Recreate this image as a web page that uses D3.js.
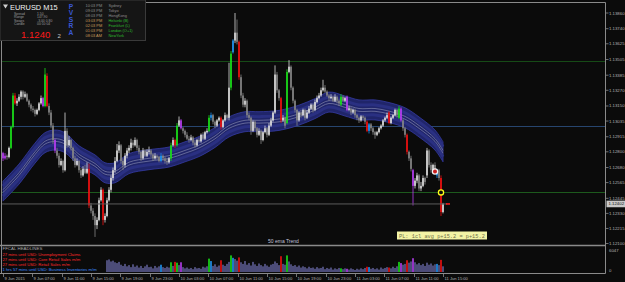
<!DOCTYPE html>
<html>
<head>
<meta charset="utf-8">
<script src="https://cdn.jsdelivr.net/npm/d3@7"></script>
<style>
  html, body { margin: 0; padding: 0; background: #0b0b0b; overflow: hidden; }
  svg { display: block; font-family: "Liberation Sans", Arial, sans-serif; }
</style>
</head>
<body>
<div id="chart"></div>
<script>
// EURUSD M15, prices kept as pips above 1.12000
const base = 1.12;

const open = [
  79,75,77,76,83,99,123,117,119,122,126,122,124,119,116,113,112,109,112,117,
  121,115,138,115,110,100,89,81,77,70,73,66,96,85,89,83,75,70,73,66,
  62,67,64,67,39,35,31,24,28,43,51,28,31,43,51,60,66,73,81,85,
  73,70,77,81,83,87,85,89,83,80,75,81,77,80,81,78,75,77,76,73,
  77,75,73,72,75,85,89,85,100,104,98,96,93,90,89,91,87,85,89,88,
  93,90,95,96,106,108,103,100,104,106,99,104,108,106,129,156,165,171,164,137,
  123,116,119,108,106,96,103,98,93,96,89,95,98,93,100,104,110,139,127,121,
  104,106,102,141,145,129,119,112,104,110,108,112,106,110,113,116,112,118,121,123,
  127,129,126,123,121,122,119,122,119,116,122,119,122,112,113,110,112,108,106,104,
  107,106,103,96,101,98,95,93,95,98,100,104,106,110,102,106,108,112,106,113,
  104,98,93,80,75,66,54,58,62,52,54,60,62,81,70,66,70,62,66,60,34
];
const high = [
  80,79,78,84,100,125,125,121,124,127,127,126,125,120,117,115,113,113,118,123,
  122,144,140,117,112,102,90,83,79,75,74,110,98,92,90,84,77,75,74,68,
  69,70,72,71,41,37,33,30,45,53,52,33,45,53,62,68,76,86,88,86,
  75,79,83,85,90,89,91,90,85,81,83,82,82,84,82,79,79,78,77,79,
  78,76,75,76,87,91,90,102,107,105,99,97,95,92,93,92,89,90,91,94,
  95,96,98,108,110,109,104,105,107,107,105,110,109,148,157,166,186,181,165,139,
  125,121,120,110,107,104,104,99,98,97,96,100,99,102,106,111,146,141,128,122,
  108,107,143,150,146,130,120,113,111,112,113,113,112,115,117,117,120,123,125,129,
  135,131,127,124,124,123,124,123,120,124,123,122,123,115,114,113,113,109,107,108,
  108,107,104,102,102,99,96,96,99,101,105,107,110,111,107,109,113,113,115,114,
  105,99,94,81,77,67,60,64,63,57,62,61,83,82,72,71,72,67,67,62,41
];
const low = [
  73,74,74,75,82,98,116,115,118,120,120,121,118,114,111,110,107,108,111,116,
  114,114,114,108,98,86,79,75,68,69,64,65,83,84,81,73,68,69,64,60,
  61,63,63,37,33,28,15,21,27,42,24,26,30,42,49,58,64,72,79,71,
  66,68,75,79,81,83,84,81,78,73,74,76,76,78,76,73,74,74,72,72,
  73,71,70,71,73,84,83,84,99,97,94,91,89,87,88,85,83,84,87,87,
  89,89,94,95,104,101,98,99,103,97,98,103,104,104,127,155,163,162,135,121,
  114,114,106,104,93,95,96,91,92,86,88,94,91,92,99,103,109,125,119,102,
  103,98,101,140,127,117,110,100,103,106,107,104,105,109,112,110,111,117,120,122,
  126,125,122,119,120,118,118,117,115,115,118,118,111,111,108,109,106,104,102,103,
  104,101,95,94,96,93,90,92,94,97,99,103,105,101,101,105,107,106,105,103,
  96,91,78,73,65,39,52,56,50,50,53,55,60,68,64,65,64,60,58,31,33
];
const close = [
  75,77,76,83,99,123,117,119,122,126,122,124,119,116,113,112,109,112,117,121,
  115,139,115,110,100,89,81,77,70,73,66,96,85,89,83,75,70,73,66,62,
  67,64,67,39,35,31,24,28,43,51,28,31,43,51,60,66,73,81,85,73,
  70,77,81,83,87,85,89,83,80,75,81,77,80,81,78,75,77,76,73,77,
  75,73,72,75,85,89,85,100,104,98,96,93,90,89,91,87,85,89,88,93,
  90,95,96,106,108,103,100,104,106,99,104,108,106,129,155,165,171,164,137,123,
  116,119,108,106,96,103,98,93,96,89,95,98,93,100,104,110,139,127,121,104,
  106,100,141,145,129,119,112,104,110,108,112,106,110,113,116,112,118,121,123,127,
  129,126,123,121,122,119,122,119,117,122,119,121,112,113,110,112,108,106,104,107,
  106,103,96,101,98,95,93,95,98,100,104,106,108,102,106,108,112,108,113,104,
  98,93,80,75,67,54,58,62,52,54,60,57,81,70,66,70,66,66,60,34,40
];

// PVSRA bar classes (bar indices)
const climaxBull = [4,5,21,84,87,103,114,142,169,198];
const climaxBear = [6,22,43,50,86,109,118,139,182,193,202,219];
const risingBull = [79,104,115,183,217];
const risingBear = [0,1,20,26,89,172,199,205];

// tick volume, first value belongs to bar volStart
const volStart = 52;
const volume = [
  2900,3100,2600,2800,2400,2200,2500,
  1800,1500,2000,1400,1700,1200,1900,1300,1600,1100,1500,1000,1400,1800,1200,1300,900,1500,1100,1400,
  1800,1200,1000,1300,1100,2400,1500,2500,2300,1700,2400,
  1200,900,1100,800,1000,700,1200,900,1000,800,1300,1100,
  1400,3300,2700,1500,1900,1300,1600,2900,1800,1500,2000,2500,
  4100,3500,3200,2800,3600,
  2400,2000,2700,1800,2200,1600,2500,1900,1500,2100,1700,1400,2000,1600,1300,1800,2000,2600,2200,1700,
  3900,2000,1800,4100,2600,
  1900,1500,1700,1300,1600,1100,1400,1200,900,1300,1000,1100,800,1200,900,1000,1300,700,1000,800,1100,600,900,700,1000,
  900,700,900,800,
  600,900,700,500,800,600,900,700,1000,
  1300,1200,
  800,1000,700,900,600,1100,800,1000,1200,
  1100,900,1300,1000,1400,
  2500,2200,1800,2000,2900,2300,2600,3400,
  2400,1900,2200,1700,2000,1500,2300,1800,2100,1600,1900,2000,1700,
  3000,1400
];
const volMax = 6047;

// "50 ema Trend" band centre, read at a few bars
const bandBars = [0,8,16,21,26,31,38,46,51,56,63,73,83,91,98,106,113,121,128,138,148,156,163,171,178,186,193,201,208,216,220];
const bandPips = [50,63,79,87,89,87,77,70,64,64,71,74,76,80,84,91,99,103,103,104,108,113,118,115,112,112,110,106,99,89,80];

const priceTicks = ["1.13860","1.13740","1.13625","1.13505","1.13385","1.13270","1.13150","1.13035",
                    "1.12915","1.12800","1.12680","1.12565","1.12445","1.12330","1.12215","1.12100"];
const timeLabels = ["9 Jun 2015","9 Jun 07:00","9 Jun 11:00","9 Jun 15:00","9 Jun 19:00","9 Jun 23:00",
                    "10 Jun 03:00","10 Jun 07:00","10 Jun 11:00","10 Jun 15:00","10 Jun 19:00","10 Jun 23:00",
                    "11 Jun 03:00","11 Jun 07:00","11 Jun 11:00","11 Jun 15:00"];
const timeTicks = ["2015-06-09T03:00","2015-06-09T07:00","2015-06-09T11:00","2015-06-09T15:00","2015-06-09T19:00","2015-06-09T23:00",
                   "2015-06-10T03:00","2015-06-10T07:00","2015-06-10T11:00","2015-06-10T15:00","2015-06-10T19:00","2015-06-10T23:00",
                   "2015-06-11T03:00","2015-06-11T07:00","2015-06-11T11:00","2015-06-11T15:00"];

const levelPrices = [1.13492, 1.12995, 1.12490];
const levelColors = ["#164a16", "#27456e", "#1d5a1d"];
const bid = 1.12402;

const markBars = [216, 219];
const markPips = [65, 49];

const sessionTimes = ["10:03 PM","09:03 PM","08:03 PM","03:03 PM","02:03 PM","01:03 PM","08:03 AM"];
const sessionCities = ["Sydney","Tokyo","HongKong","Helsinki (B)","Frankfurt (L)","London (O+1)","NewYork"];
const sessionOpen = [false,false,false,true,true,true,true];

const statNames = ["Spread","Range","Swaps","Candle"];
const statValues = ["1.50","147.90","-3.00  0.80","00:10:04"];

const newsLines = ["27 mins until USD: Unemployment Claims",
                   "27 mins until USD: Core Retail Sales m/m",
                   "27 mins until USD: Retail Sales m/m",
                   "1 hrs 57 mins until USD: Business Inventories m/m"];
const newsColors = ["#ff2a2a","#ff2a2a","#ff2a2a","#3d8cff"];

// ---- layout ----
const width = 625, height = 282;
const axisX = 605.5;
const n = Math.min(open.length, high.length, low.length, close.length);

const svg = d3.select('#chart').append('svg')
  .attr('width', width).attr('height', height);

svg.append('rect').attr('width', width).attr('height', height).attr('fill', '#0b0b0b');

const px = p => base + p / 10000;
const x = d3.scaleLinear().domain([0, n - 1]).range([3, 443]);
const y = d3.scaleLinear().domain([1.12100, 1.13860]).range([243.5, 13]);
const vy = d3.scaleLinear().domain([0, volMax]).range([272, 247.5]);
const xt = d3.scaleTime()
  .domain([new Date("2015-06-09T03:00"), new Date("2015-06-11T15:00")])
  .range([3, 443]);

// horizontal levels
svg.selectAll('.lvl').data(levelPrices).enter().append('line')
  .attr('x1', 2).attr('x2', axisX)
  .attr('y1', d => Math.round(y(d)) + 0.5).attr('y2', d => Math.round(y(d)) + 0.5)
  .attr('stroke', (d, i) => levelColors[i]).attr('stroke-width', 1);

// ema band
const bandPts = bandBars.map((b, i) => [x(b), y(px(bandPips[i]))]);
svg.append('path')
  .attr('d', d3.area().x(d => d[0]).y0(d => d[1] - 10).y1(d => d[1] + 10).curve(d3.curveCatmullRom)(bandPts))
  .attr('fill', '#20256a').attr('stroke', '#353ba3').attr('stroke-width', 0.8);
[-5, 5].forEach(off => {
  svg.append('path')
    .attr('d', d3.line().x(d => d[0]).y(d => d[1] + off).curve(d3.curveCatmullRom)(bandPts))
    .attr('fill', 'none').attr('stroke', '#2a3082').attr('stroke-width', 3);
});
[-1.4, 1.4].forEach(off => {
  svg.append('path')
    .attr('d', d3.line().x(d => d[0]).y(d => d[1] + off).curve(d3.curveCatmullRom)(bandPts))
    .attr('fill', 'none').attr('stroke', '#9295b8').attr('stroke-width', 0.6);
});

// candle colours
function barColor(i) {
  if (climaxBull.includes(i)) return '#19e019';
  if (climaxBear.includes(i)) return '#ee1111';
  if (risingBull.includes(i)) return '#2196f3';
  if (risingBear.includes(i)) return '#b63ef0';
  return close[i] >= open[i] ? '#dcdcdc' : '#858585';
}
const bars = d3.range(n);

svg.selectAll('.wick').data(bars).enter().append('line')
  .attr('x1', i => x(i)).attr('x2', i => x(i))
  .attr('y1', i => y(px(high[i]))).attr('y2', i => y(px(low[i])))
  .attr('stroke', barColor).attr('stroke-width', 0.8);

svg.selectAll('.body').data(bars).enter().append('rect')
  .attr('x', i => x(i) - 0.8).attr('width', 1.6)
  .attr('y', i => y(px(Math.max(open[i], close[i]))))
  .attr('height', i => Math.max(0.8, Math.abs(y(px(open[i])) - y(px(close[i])))))
  .attr('fill', barColor);

// bid / trade line
svg.append('line')
  .attr('x1', 2).attr('x2', x(n - 1) + 4)
  .attr('y1', y(bid)).attr('y2', y(bid))
  .attr('stroke', '#5c5c5c').attr('stroke-width', 1);
svg.append('line')
  .attr('x1', x(n - 1) + 3).attr('x2', x(n - 1) + 7)
  .attr('y1', y(bid)).attr('y2', y(bid))
  .attr('stroke', '#ff1a1a').attr('stroke-width', 1.5);

// trade markers
svg.append('circle')
  .attr('cx', x(markBars[0])).attr('cy', y(px(markPips[0]))).attr('r', 2.6)
  .attr('fill', '#c81e1e').attr('stroke', '#f4f4f4').attr('stroke-width', 1.2);
svg.append('circle')
  .attr('cx', x(markBars[1])).attr('cy', y(px(markPips[1]))).attr('r', 2.6)
  .attr('fill', '#0b0b0b').attr('stroke', '#ffff1a').attr('stroke-width', 1.3);

// frame
const frame = svg.append('g').attr('stroke', '#8a8a8a').attr('stroke-width', 1);
frame.append('line').attr('x1', 0).attr('x2', axisX).attr('y1', 2.5).attr('y2', 2.5);
frame.append('line').attr('x1', 1.5).attr('x2', 1.5).attr('y1', 2.5).attr('y2', 273);
frame.append('line').attr('x1', axisX).attr('x2', axisX).attr('y1', 2.5).attr('y2', 273.5);
frame.append('line').attr('x1', 0).attr('x2', axisX).attr('y1', 245.5).attr('y2', 245.5).attr('stroke-width', 1.6);
frame.append('line').attr('x1', 0).attr('x2', axisX).attr('y1', 273.5).attr('y2', 273.5);

// price axis
svg.selectAll('.ptick').data(priceTicks).enter().append('line')
  .attr('x1', axisX).attr('x2', axisX + 3)
  .attr('y1', d => y(+d)).attr('y2', d => y(+d))
  .attr('stroke', '#8a8a8a').attr('stroke-width', 0.8);
svg.selectAll('.plab').data(priceTicks).enter().append('text')
  .attr('x', 609).attr('y', d => y(+d) + 1.5)
  .attr('font-size', 4.3).attr('fill', '#b4b4b4')
  .text(d => d);
svg.append('rect')
  .attr('x', 606.5).attr('y', y(bid) - 3.3).attr('width', 18.5).attr('height', 6.6)
  .attr('fill', '#c9c9c9');
svg.append('text')
  .attr('x', 608.5).attr('y', y(bid) + 1.5)
  .attr('font-size', 4.3).attr('fill', '#111')
  .text(bid.toFixed(5));

// volume window
svg.selectAll('.vol').data(volume).enter().append('rect')
  .attr('x', (d, k) => x(volStart + k) - 0.8).attr('width', 1.6)
  .attr('y', d => vy(d)).attr('height', d => vy(0) - vy(d))
  .attr('fill', (d, k) => {
    const c = barColor(volStart + k);
    return (c === '#dcdcdc' || c === '#858585') ? '#5d5d93' : c;
  });
svg.append('text').attr('x', 609).attr('y', 251.5).attr('font-size', 4.3).attr('fill', '#b4b4b4').text(volMax);
svg.append('text').attr('x', 609).attr('y', 271.5).attr('font-size', 4.3).attr('fill', '#b4b4b4').text('0');

// news headlines
svg.append('text').attr('x', 2.5).attr('y', 250.3)
  .attr('font-size', 4.4).attr('fill', '#a8a8a8').text('FFCAL HEADLINES');
svg.selectAll('.news').data(newsLines).enter().append('text')
  .attr('x', 2.5).attr('y', (d, i) => 255.6 + i * 5)
  .attr('font-size', 4.2).attr('fill', (d, i) => newsColors[i])
  .text(d => d);

// time axis
timeTicks.forEach((t, i) => {
  const tx = Math.round(xt(new Date(t))) + 0.5;
  svg.append('line').attr('x1', tx).attr('x2', tx).attr('y1', 273.5).attr('y2', 277)
    .attr('stroke', '#8a8a8a').attr('stroke-width', 0.8);
  svg.append('text').attr('x', tx + 1).attr('y', 279.5)
    .attr('font-size', 4.1).attr('fill', '#b4b4b4').text(timeLabels[i]);
});

// band label
svg.append('text').attr('x', 268).attr('y', 243)
  .attr('font-size', 5).attr('fill', '#c2c2dc').text('50 ema Trend');

// P/L box
svg.append('rect').attr('x', 397).attr('y', 231.5).attr('width', 90).attr('height', 8)
  .attr('fill', '#f3f3a6');
svg.append('text').attr('x', 399).attr('y', 237.8)
  .attr('font-family', '"Liberation Mono", monospace')
  .attr('font-size', 5.3).attr('fill', '#6f7048')
  .text('PL: 1cl avg p+15.2 = p+15.2');

// info panel
svg.append('rect').attr('x', 0).attr('y', 0).attr('width', 145.5).attr('height', 40.5)
  .attr('fill', '#151515').attr('stroke', '#3a3a3a').attr('stroke-width', 1);
svg.append('path').attr('d', 'M3,4.5 L8,4.5 L5.5,8.5 Z').attr('fill', '#d0d0d0');
svg.append('text').attr('x', 10).attr('y', 9.6)
  .attr('font-size', 7.4).attr('fill', '#f2f2f2').text('EURUSD  M15');
statNames.forEach((s, i) => {
  svg.append('text').attr('x', 14).attr('y', 14.8 + i * 3.5)
    .attr('font-size', 3.4).attr('fill', '#9c9c9c').text(s);
  svg.append('text').attr('x', 37).attr('y', 14.8 + i * 3.5)
    .attr('font-size', 3.4).attr('fill', '#9c9c9c').text(statValues[i]);
});
svg.append('text').attr('x', 21).attr('y', 37.6)
  .attr('font-size', 9.6).attr('fill', '#ff1a1a').text(bid.toFixed(5).slice(0, 6));
svg.append('text').attr('x', 57.5).attr('y', 37.6)
  .attr('font-size', 6).attr('fill', '#c8c8c8').text(bid.toFixed(5).slice(6));
['P','V','S','R','A'].forEach((ch, i) => {
  svg.append('text').attr('x', 71).attr('y', 8.6 + i * 6.6)
    .attr('text-anchor', 'middle').attr('font-size', 6.6).attr('font-weight', 'bold')
    .attr('fill', '#3a58d8').text(ch);
});
sessionTimes.forEach((t, i) => {
  svg.append('text').attr('x', 85.5).attr('y', 6.7 + i * 5.05)
    .attr('font-size', 3.9).attr('fill', sessionOpen[i] ? '#c89a5a' : '#8c8c8c').text(t);
  svg.append('text').attr('x', 108.5).attr('y', 6.7 + i * 5.05)
    .attr('font-size', 3.9).attr('fill', sessionOpen[i] ? '#2dbb2d' : '#8c8c8c').text(sessionCities[i]);
});
</script>
</body>
</html>
